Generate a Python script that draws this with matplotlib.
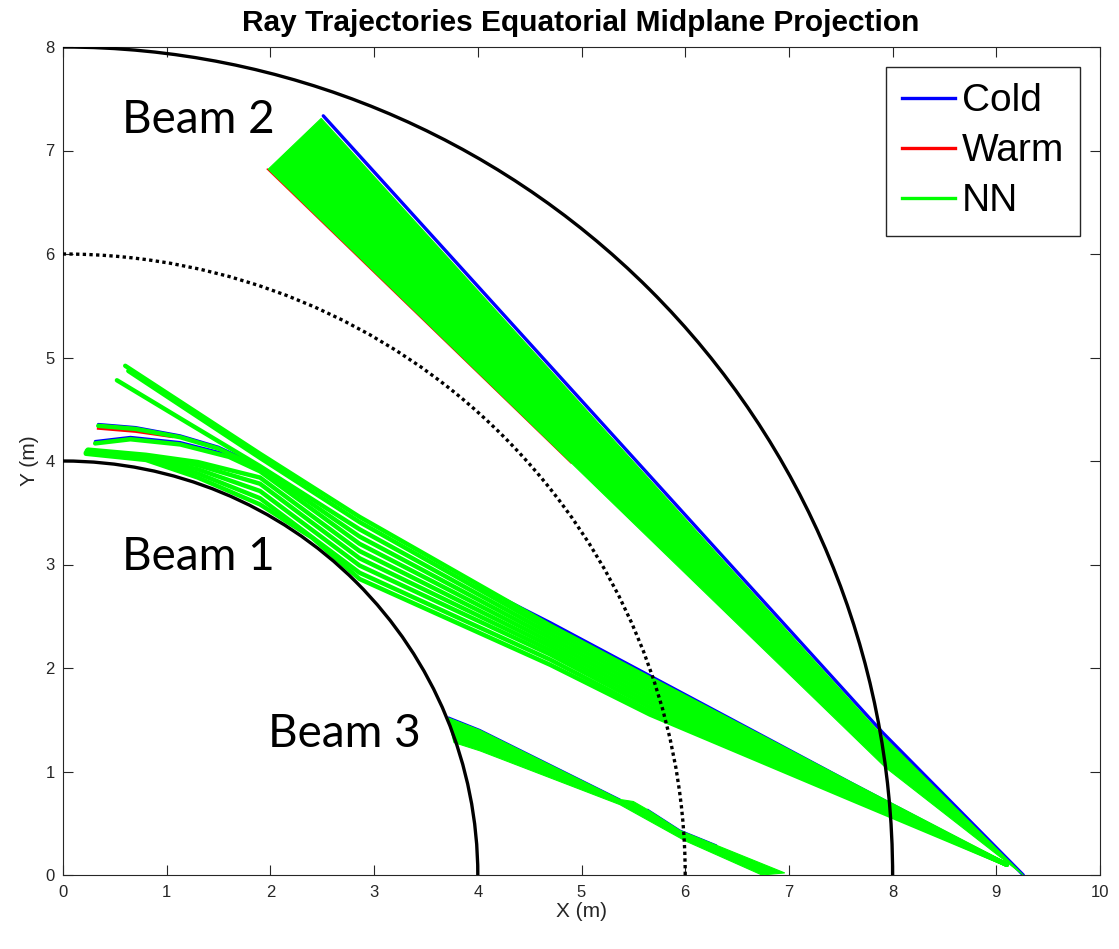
import matplotlib
matplotlib.use("Agg")
import matplotlib.pyplot as plt
from matplotlib.patches import Arc, Polygon
from matplotlib.lines import Line2D

# ---- boundary surfaces (m) ----
inner_radius = 4.0
mid_radius = 6.0
outer_radius = 8.0

# ---- Beam 1: NN ray paths (x, y in m) ----
beam1_nn_x = [
    [0.60, 1.9, 2.86, 4.7, 5.66, 7.6, 9.1],
    [0.63, 1.9, 2.86, 4.7, 5.66, 7.6, 9.1],
    [0.52, 1.2, 1.9, 2.86, 4.7, 5.66, 7.6, 9.1],
    [0.34, 0.7, 1.13, 1.5, 1.9, 2.86, 4.7, 5.66, 7.6, 9.1],
    [0.31, 0.65, 1.13, 1.6, 1.9, 2.86, 4.7, 5.66, 7.6, 9.1],
    [0.24, 0.8, 1.3, 1.9, 2.86, 4.7, 5.66, 7.6, 9.1],
    [0.23, 0.8, 1.3, 1.9, 2.86, 4.7, 5.66, 7.6, 9.1],
    [0.23, 0.8, 1.3, 1.9, 2.86, 4.7, 5.66, 7.6, 9.1],
    [0.22, 0.8, 1.3, 1.9, 2.86, 4.7, 5.66, 7.6, 9.1],
    [0.22, 0.8, 1.3, 1.9, 2.4, 2.86, 4.7, 5.66, 7.6, 9.1],
]
beam1_nn_y = [
    [4.92, 4.07, 3.46, 2.41, 1.90, 0.88, 0.10],
    [4.87, 4.03, 3.41, 2.37, 1.86, 0.86, 0.10],
    [4.78, 4.37, 3.95, 3.34, 2.33, 1.82, 0.85, 0.10],
    [4.34, 4.31, 4.23, 4.12, 3.93, 3.27, 2.29, 1.78, 0.83, 0.10],
    [4.17, 4.21, 4.16, 4.04, 3.90, 3.20, 2.25, 1.74, 0.81, 0.10],
    [4.11, 4.06, 3.99, 3.84, 3.13, 2.21, 1.70, 0.80, 0.10],
    [4.10, 4.05, 3.96, 3.78, 3.06, 2.17, 1.66, 0.78, 0.10],
    [4.09, 4.03, 3.92, 3.71, 2.99, 2.13, 1.62, 0.77, 0.10],
    [4.08, 4.02, 3.88, 3.64, 2.92, 2.08, 1.58, 0.75, 0.10],
    [4.07, 4.01, 3.84, 3.58, 3.26, 2.86, 2.03, 1.55, 0.73, 0.10],
]

# Beam 1: cold-plasma rays that separate from the NN result
beam1_cold_x = [
    [0.31, 0.65, 1.13, 1.6, 1.9],
    [0.34, 0.7, 1.13, 1.5, 1.9, 2.3],
    [4.0, 4.7, 7.6, 9.1],
]
beam1_cold_y = [
    [4.19, 4.23, 4.18, 4.06, 3.92],
    [4.355, 4.325, 4.245, 4.135, 3.945, 3.69],
    [2.795, 2.44, 0.89, 0.10],
]
# Beam 1: warm-plasma ray
beam1_warm_x = [[0.34, 0.7, 1.05]]
beam1_warm_y = [[4.315, 4.285, 4.235]]

# ---- Beam 2: NN envelope (launch segment -> waist -> focus) ----
beam2_nn_x = [1.98, 2.49, 7.88, 9.26, 7.93]
beam2_nn_y = [6.82, 7.31, 1.37, 0.00, 1.04]
beam2_cold_x = [2.51, 7.90, 9.26]
beam2_cold_y = [7.335, 1.38, 0.00]
beam2_warm_x = [1.97, 4.90]
beam2_warm_y = [6.82, 3.98]

# ---- Beam 3: NN envelope ----
beam3_nn_x = [3.71, 4.02, 5.37, 5.50, 5.64, 5.95, 6.96, 6.74, 6.00, 5.37, 4.02, 3.77]
beam3_nn_y = [1.52, 1.40, 0.73, 0.71, 0.63, 0.43, 0.02, 0.00, 0.33, 0.68, 1.20, 1.28]
beam3_cold_x = [[3.72, 4.02, 5.37], [5.64, 5.95, 6.30]]
beam3_cold_y = [[1.525, 1.405, 0.733], [0.633, 0.433, 0.290]]

# ---- text ----
title_text = "Ray Trajectories Equatorial Midplane Projection"
beam_labels = ["Beam 2", "Beam 1", "Beam 3"]
beam_label_x = [0.57, 0.57, 1.98]
beam_label_y = [7.17, 2.95, 1.24]
legend_labels = ["Cold", "Warm", "NN"]

COLD, WARM, NN = "#0000ff", "#ff0000", "#00ff00"
AX_COLOR = "#262626"

fig = plt.figure(figsize=(11.19, 9.49), dpi=100)
ax = fig.add_axes([63 / 1119, 74 / 949, 1037 / 1119, 828 / 949])

# cold rays (bottom layer)
for xs, ys in zip(beam1_cold_x, beam1_cold_y):
    ax.plot(xs, ys, color=COLD, lw=2.0, solid_capstyle="round", zorder=2)
ax.plot(beam2_cold_x, beam2_cold_y, color=COLD, lw=2.4, solid_capstyle="round", zorder=2)
for xs, ys in zip(beam3_cold_x, beam3_cold_y):
    ax.plot(xs, ys, color=COLD, lw=1.0, zorder=2)

# warm rays
for xs, ys in zip(beam1_warm_x, beam1_warm_y):
    ax.plot(xs, ys, color=WARM, lw=2.0, zorder=3)
ax.plot(beam2_warm_x, beam2_warm_y, color=WARM, lw=1.0, zorder=3)

# NN rays
for xs, ys in zip(beam1_nn_x, beam1_nn_y):
    ax.plot(xs, ys, color=NN, lw=3.2, solid_capstyle="round",
            solid_joinstyle="round", zorder=4)
ax.add_patch(Polygon(list(zip(beam2_nn_x, beam2_nn_y)), closed=True,
                     facecolor=NN, edgecolor=NN, lw=0.8, zorder=4))
ax.add_patch(Polygon(list(zip(beam3_nn_x, beam3_nn_y)), closed=True,
                     facecolor=NN, edgecolor=NN, lw=0.8, zorder=4))

# boundary surfaces
for r, style in [(inner_radius, "-"), (outer_radius, "-"), (mid_radius, (0, (1, 1)))]:
    ax.add_patch(Arc((0, 0), 2 * r, 2 * r, theta1=0, theta2=90,
                     color="black", lw=2.4, linestyle=style, zorder=5))

for label, x, y in zip(beam_labels, beam_label_x, beam_label_y):
    ax.text(x, y, label, fontsize=33, family="Lato", color="black",
            ha="left", va="baseline", zorder=6)

ax.set_xlim(0, 10)
ax.set_ylim(0, 8)
ax.set_xticks(range(0, 11))
ax.set_yticks(range(0, 9))
ax.tick_params(direction="in", length=7, width=0.8, colors=AX_COLOR,
               labelsize=12, top=True, right=True)
ax.tick_params(axis="x", pad=7)
ax.tick_params(axis="y", pad=6)
for lab in ax.get_xticklabels() + ax.get_yticklabels():
    lab.set_family("Liberation Sans")
for sp in ax.spines.values():
    sp.set_color(AX_COLOR)
    sp.set_linewidth(0.8)

ax.set_xlabel("X (m)", fontsize=15, family="Liberation Sans", color=AX_COLOR)
ax.set_ylabel("Y (m)", fontsize=15, family="Liberation Sans", color=AX_COLOR)
ax.xaxis.set_label_coords(0.5, -0.033)
ax.yaxis.set_label_coords(-0.023, 0.5)

fig.text(581 / 1119, 1 - 31 / 949, title_text, ha="center", va="baseline",
         fontsize=21.5, fontweight="bold", family="Liberation Sans")

handles = [Line2D([], [], color=c, lw=2.4) for c in (COLD, WARM, NN)]
leg = ax.legend(handles, legend_labels, loc="upper right",
                bbox_to_anchor=(0.981, 0.976), borderaxespad=0,
                prop={"family": "Liberation Sans", "size": 28},
                handlelength=1.34, handletextpad=0.18, labelspacing=0.36,
                borderpad=0.42, fancybox=False, framealpha=1)
leg.get_frame().set_edgecolor(AX_COLOR)
leg.get_frame().set_linewidth(1.0)

fig.savefig("out.png", dpi=100)
